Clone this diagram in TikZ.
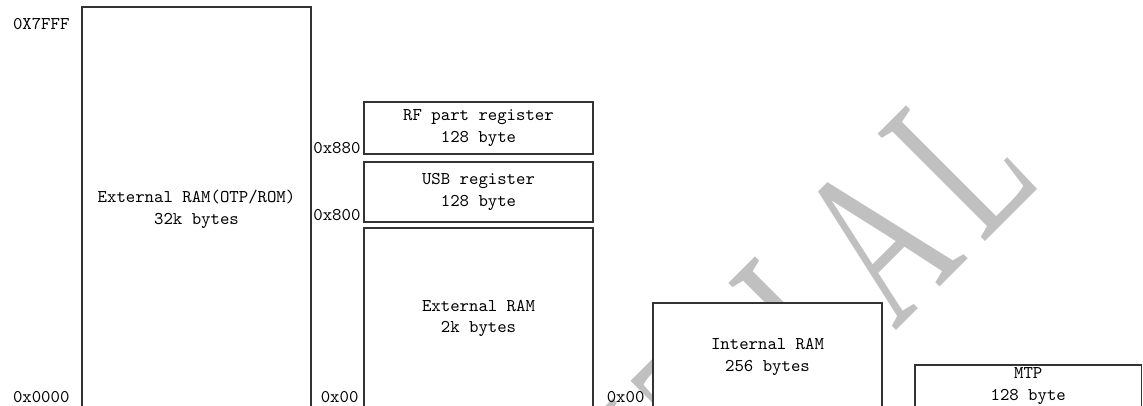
\documentclass[tikz,border=0pt]{standalone}
\usepackage{fontspec}
\usepackage{graphicx}
\newfontfamily\wmfont{Liberation Serif}
\definecolor{wmgray}{RGB}{192,192,192}

\begin{document}
\begin{tikzpicture}[line width=0.6pt,
  mem/.style={draw=black!80,fill=white,inner sep=0pt,align=center,
    minimum width=4.58cm,font=\ttfamily\fontsize{10.2}{12.2}\selectfont},
  addr/.style={anchor=base east,inner sep=0pt,
    font=\ttfamily\fontsize{10.2}{12.2}\selectfont}]
\useasboundingbox (0,0) rectangle (22.86,8.12);
\clip (0,0) rectangle (22.86,8.12);
% ================= watermark =================
\node[rotate=45,anchor=base,inner sep=0pt,text=wmgray] (wm) at (11.26,-5.16)
  {\scalebox{0.62}[1]{\wmfont\fontsize{132}{132}\selectfont
   \foreach \c in {C,O,N,F,I,D,E,N,T,I,A,L}{\makebox[3.74cm][c]{\c}}}};
% ================= code space =================
\node[mem,minimum height=8.10cm] (extrom) at (3.93,3.93) {External RAM(OTP/ROM)\\32k bytes};
\node[addr] (a7fff) at (1.40,7.53) {0X7FFF};
\node[addr] (a0000) at (1.40,0.06) {0x0000};
% ================= xdata space =================
\node[mem,minimum height=1.04cm] (rfreg) at (9.57,5.56) {RF part register\\128 byte};
\node[mem,minimum height=1.20cm] (usbreg) at (9.57,4.28) {USB register\\128 byte};
\node[mem,minimum height=3.62cm] (extram) at (9.57,1.75) {External RAM\\2k bytes};
\node[addr] (a880) at (7.22,5.05) {0x880};
\node[addr] (a800) at (7.22,3.71) {0x800};
\node[addr] (axd00) at (7.18,0.06) {0x00};
% ================= data space =================
\node[mem,minimum height=2.16cm] (intram) at (15.35,0.98) {Internal RAM\\256 bytes};
\node[addr] (ad00) at (12.90,0.06) {0x00};
% ================= MTP =================
\node[mem,minimum width=4.53cm,minimum height=0.84cm] (mtp) at (20.565,0.40) {MTP\\128 byte};
\end{tikzpicture}
\end{document}
